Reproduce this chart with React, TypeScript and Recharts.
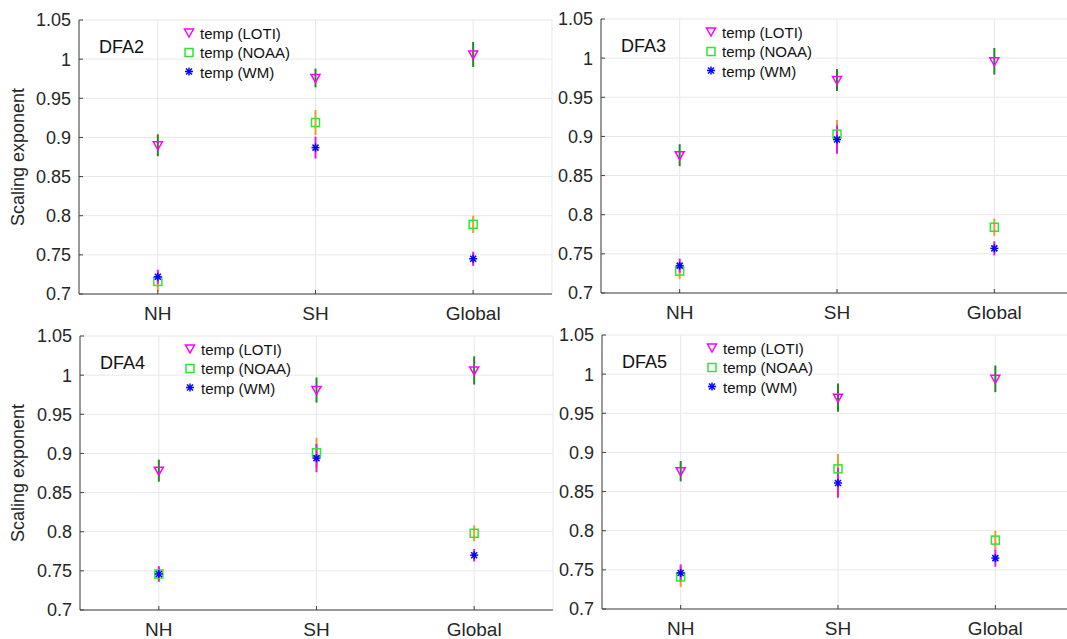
import React from 'react';
import { ComposedChart, Scatter, ErrorBar, XAxis, YAxis, CartesianGrid } from 'recharts';

const regions = ['NH', 'SH', 'Global'];
const yTicks = [0.7, 0.75, 0.8, 0.85, 0.9, 0.95, 1, 1.05];

// DFA2
const dfa2Loti = [0.89, 0.976, 1.006];
const dfa2LotiErr = [0.014, 0.012, 0.016];
const dfa2Noaa = [0.716, 0.919, 0.789];
const dfa2NoaaErr = [0.012, 0.016, 0.011];
const dfa2Wm = [0.722, 0.887, 0.745];
const dfa2WmErr = [0.009, 0.014, 0.009];

// DFA3
const dfa3Loti = [0.876, 0.972, 0.996];
const dfa3LotiErr = [0.014, 0.014, 0.017];
const dfa3Noaa = [0.728, 0.903, 0.784];
const dfa3NoaaErr = [0.01, 0.018, 0.011];
const dfa3Wm = [0.735, 0.896, 0.757];
const dfa3WmErr = [0.009, 0.018, 0.009];

// DFA4
const dfa4Loti = [0.878, 0.981, 1.006];
const dfa4LotiErr = [0.014, 0.016, 0.018];
const dfa4Noaa = [0.746, 0.901, 0.798];
const dfa4NoaaErr = [0.008, 0.019, 0.01];
const dfa4Wm = [0.746, 0.894, 0.77];
const dfa4WmErr = [0.01, 0.018, 0.008];

// DFA5
const dfa5Loti = [0.876, 0.97, 0.994];
const dfa5LotiErr = [0.013, 0.018, 0.017];
const dfa5Noaa = [0.741, 0.879, 0.788];
const dfa5NoaaErr = [0.013, 0.019, 0.012];
const dfa5Wm = [0.746, 0.861, 0.765];
const dfa5WmErr = [0.011, 0.019, 0.011];

const FONT = '"Liberation Sans", Arial, Helvetica, sans-serif';
const AXIS = '#404040';
const TEXT = '#262626';

const build = (loti, lotiErr, noaa, noaaErr, wm, wmErr) =>
  regions.map((region, i) => ({
    region,
    loti: loti[i], lotiErr: lotiErr[i],
    noaa: noaa[i], noaaErr: noaaErr[i],
    wm: wm[i], wmErr: wmErr[i],
  }));

const Triangle = ({ cx, cy }: any) => (
  <path d={`M${cx - 4.5},${cy - 3.5} L${cx + 4.5},${cy - 3.5} L${cx},${cy + 4.5} Z`} fill="none" stroke="#ff00ff" strokeWidth={1.5} />
);
const Square = ({ cx, cy }: any) => (
  <rect x={cx - 4} y={cy - 4} width={8} height={8} fill="none" stroke="#2ee62e" strokeWidth={1.5} />
);
const Star = ({ cx, cy }: any) => (
  <g stroke="#0000ff" strokeWidth={1.5}>
    <line x1={cx - 4} y1={cy} x2={cx + 4} y2={cy} />
    <line x1={cx} y1={cy - 4} x2={cx} y2={cy + 4} />
    <line x1={cx - 3} y1={cy - 3} x2={cx + 3} y2={cy + 3} />
    <line x1={cx - 3} y1={cy + 3} x2={cx + 3} y2={cy - 3} />
  </g>
);

const legendItems = [
  { name: 'temp (LOTI)', Shape: Triangle },
  { name: 'temp (NOAA)', Shape: Square },
  { name: 'temp (WM)', Shape: Star },
];

const Panel = ({ data, label, left, top, width, height, mt, yw, mr, xh, yLabel }: any) => {
  const plotH = height - mt - xh;
  return (
    <div style={{ position: 'absolute', left, top, width, height, fontFamily: FONT }}>
      <ComposedChart width={width} height={height} data={data} margin={{ top: mt, right: mr, left: 0, bottom: 0 }}>
        <CartesianGrid stroke="#e8e8e8" strokeWidth={1} />
        <XAxis dataKey="region" scale="band" height={xh} axisLine={{ stroke: AXIS }} tickLine={{ stroke: AXIS }}
          tickSize={-4} tickMargin={17} tick={{ fill: TEXT, fontSize: 19, fontFamily: FONT }} />
        <XAxis xAxisId="top" orientation="top" dataKey="region" scale="band" height={0} axisLine={{ stroke: AXIS }}
          tickLine={{ stroke: AXIS }} tickSize={-4} tick={false} />
        <YAxis domain={[0.7, 1.05]} ticks={yTicks} width={yw} axisLine={{ stroke: AXIS }} tickLine={{ stroke: AXIS }}
          tickSize={-4} tickMargin={12} tickFormatter={(v) => String(v)} interval={0}
          tick={{ fill: TEXT, fontSize: 18, fontFamily: FONT }} />
        <YAxis yAxisId="right" orientation="right" domain={[0.7, 1.05]} ticks={yTicks} width={0}
          axisLine={{ stroke: AXIS }} tickLine={{ stroke: AXIS }} tickSize={-4} tick={false} />
        <Scatter dataKey="loti" shape={Triangle} isAnimationActive={false}>
          <ErrorBar dataKey="lotiErr" direction="y" width={0} stroke="#1f8a1f" strokeWidth={2} />
        </Scatter>
        <Scatter dataKey="noaa" shape={Square} isAnimationActive={false}>
          <ErrorBar dataKey="noaaErr" direction="y" width={0} stroke="#ee9a2d" strokeWidth={2} />
        </Scatter>
        <Scatter dataKey="wm" shape={Star} isAnimationActive={false}>
          <ErrorBar dataKey="wmErr" direction="y" width={0} stroke="#e619e6" strokeWidth={2} />
        </Scatter>
      </ComposedChart>

      <div style={{ position: 'absolute', left: yw + 20, top: mt + 27, transform: 'translateY(-50%)', fontSize: 18, color: '#111' }}>
        {label}
      </div>

      {legendItems.map((item, i) => (
        <div key={item.name} style={{ position: 'absolute', left: yw + 103, top: mt + 12.5 + i * 19.5, transform: 'translateY(-50%)',
          display: 'flex', alignItems: 'center', fontSize: 15, color: '#111', whiteSpace: 'nowrap' }}>
          <svg width={14} height={14} style={{ marginRight: 4 }}>
            <item.Shape cx={7} cy={7} />
          </svg>
          {item.name}
        </div>
      ))}

      {yLabel && (
        <div style={{ position: 'absolute', left: 18, top: mt + plotH / 2, transform: 'translate(-50%, -50%) rotate(-90deg)',
          fontSize: 18, color: TEXT, whiteSpace: 'nowrap' }}>
          Scaling exponent
        </div>
      )}
    </div>
  );
};

export default function App() {
  return (
    <div style={{ position: 'absolute', left: 0, top: 0, width: 1067, height: 639, overflow: 'hidden', background: '#fff' }}>
      <Panel data={build(dfa2Loti, dfa2LotiErr, dfa2Noaa, dfa2NoaaErr, dfa2Wm, dfa2WmErr)} label="DFA2"
        left={0} top={0} width={560} height={326} mt={20} yw={79} mr={8} xh={32} yLabel />
      <Panel data={build(dfa3Loti, dfa3LotiErr, dfa3Noaa, dfa3NoaaErr, dfa3Wm, dfa3WmErr)} label="DFA3"
        left={520} top={0} width={560} height={326} mt={19} yw={81} mr={7} xh={33} />
      <Panel data={build(dfa4Loti, dfa4LotiErr, dfa4Noaa, dfa4NoaaErr, dfa4Wm, dfa4WmErr)} label="DFA4"
        left={0} top={320} width={560} height={319} mt={16} yw={80} mr={7} xh={29} yLabel />
      <Panel data={build(dfa5Loti, dfa5LotiErr, dfa5Noaa, dfa5NoaaErr, dfa5Wm, dfa5WmErr)} label="DFA5"
        left={520} top={320} width={560} height={319} mt={15} yw={82} mr={6} xh={30} />
    </div>
  );
}
